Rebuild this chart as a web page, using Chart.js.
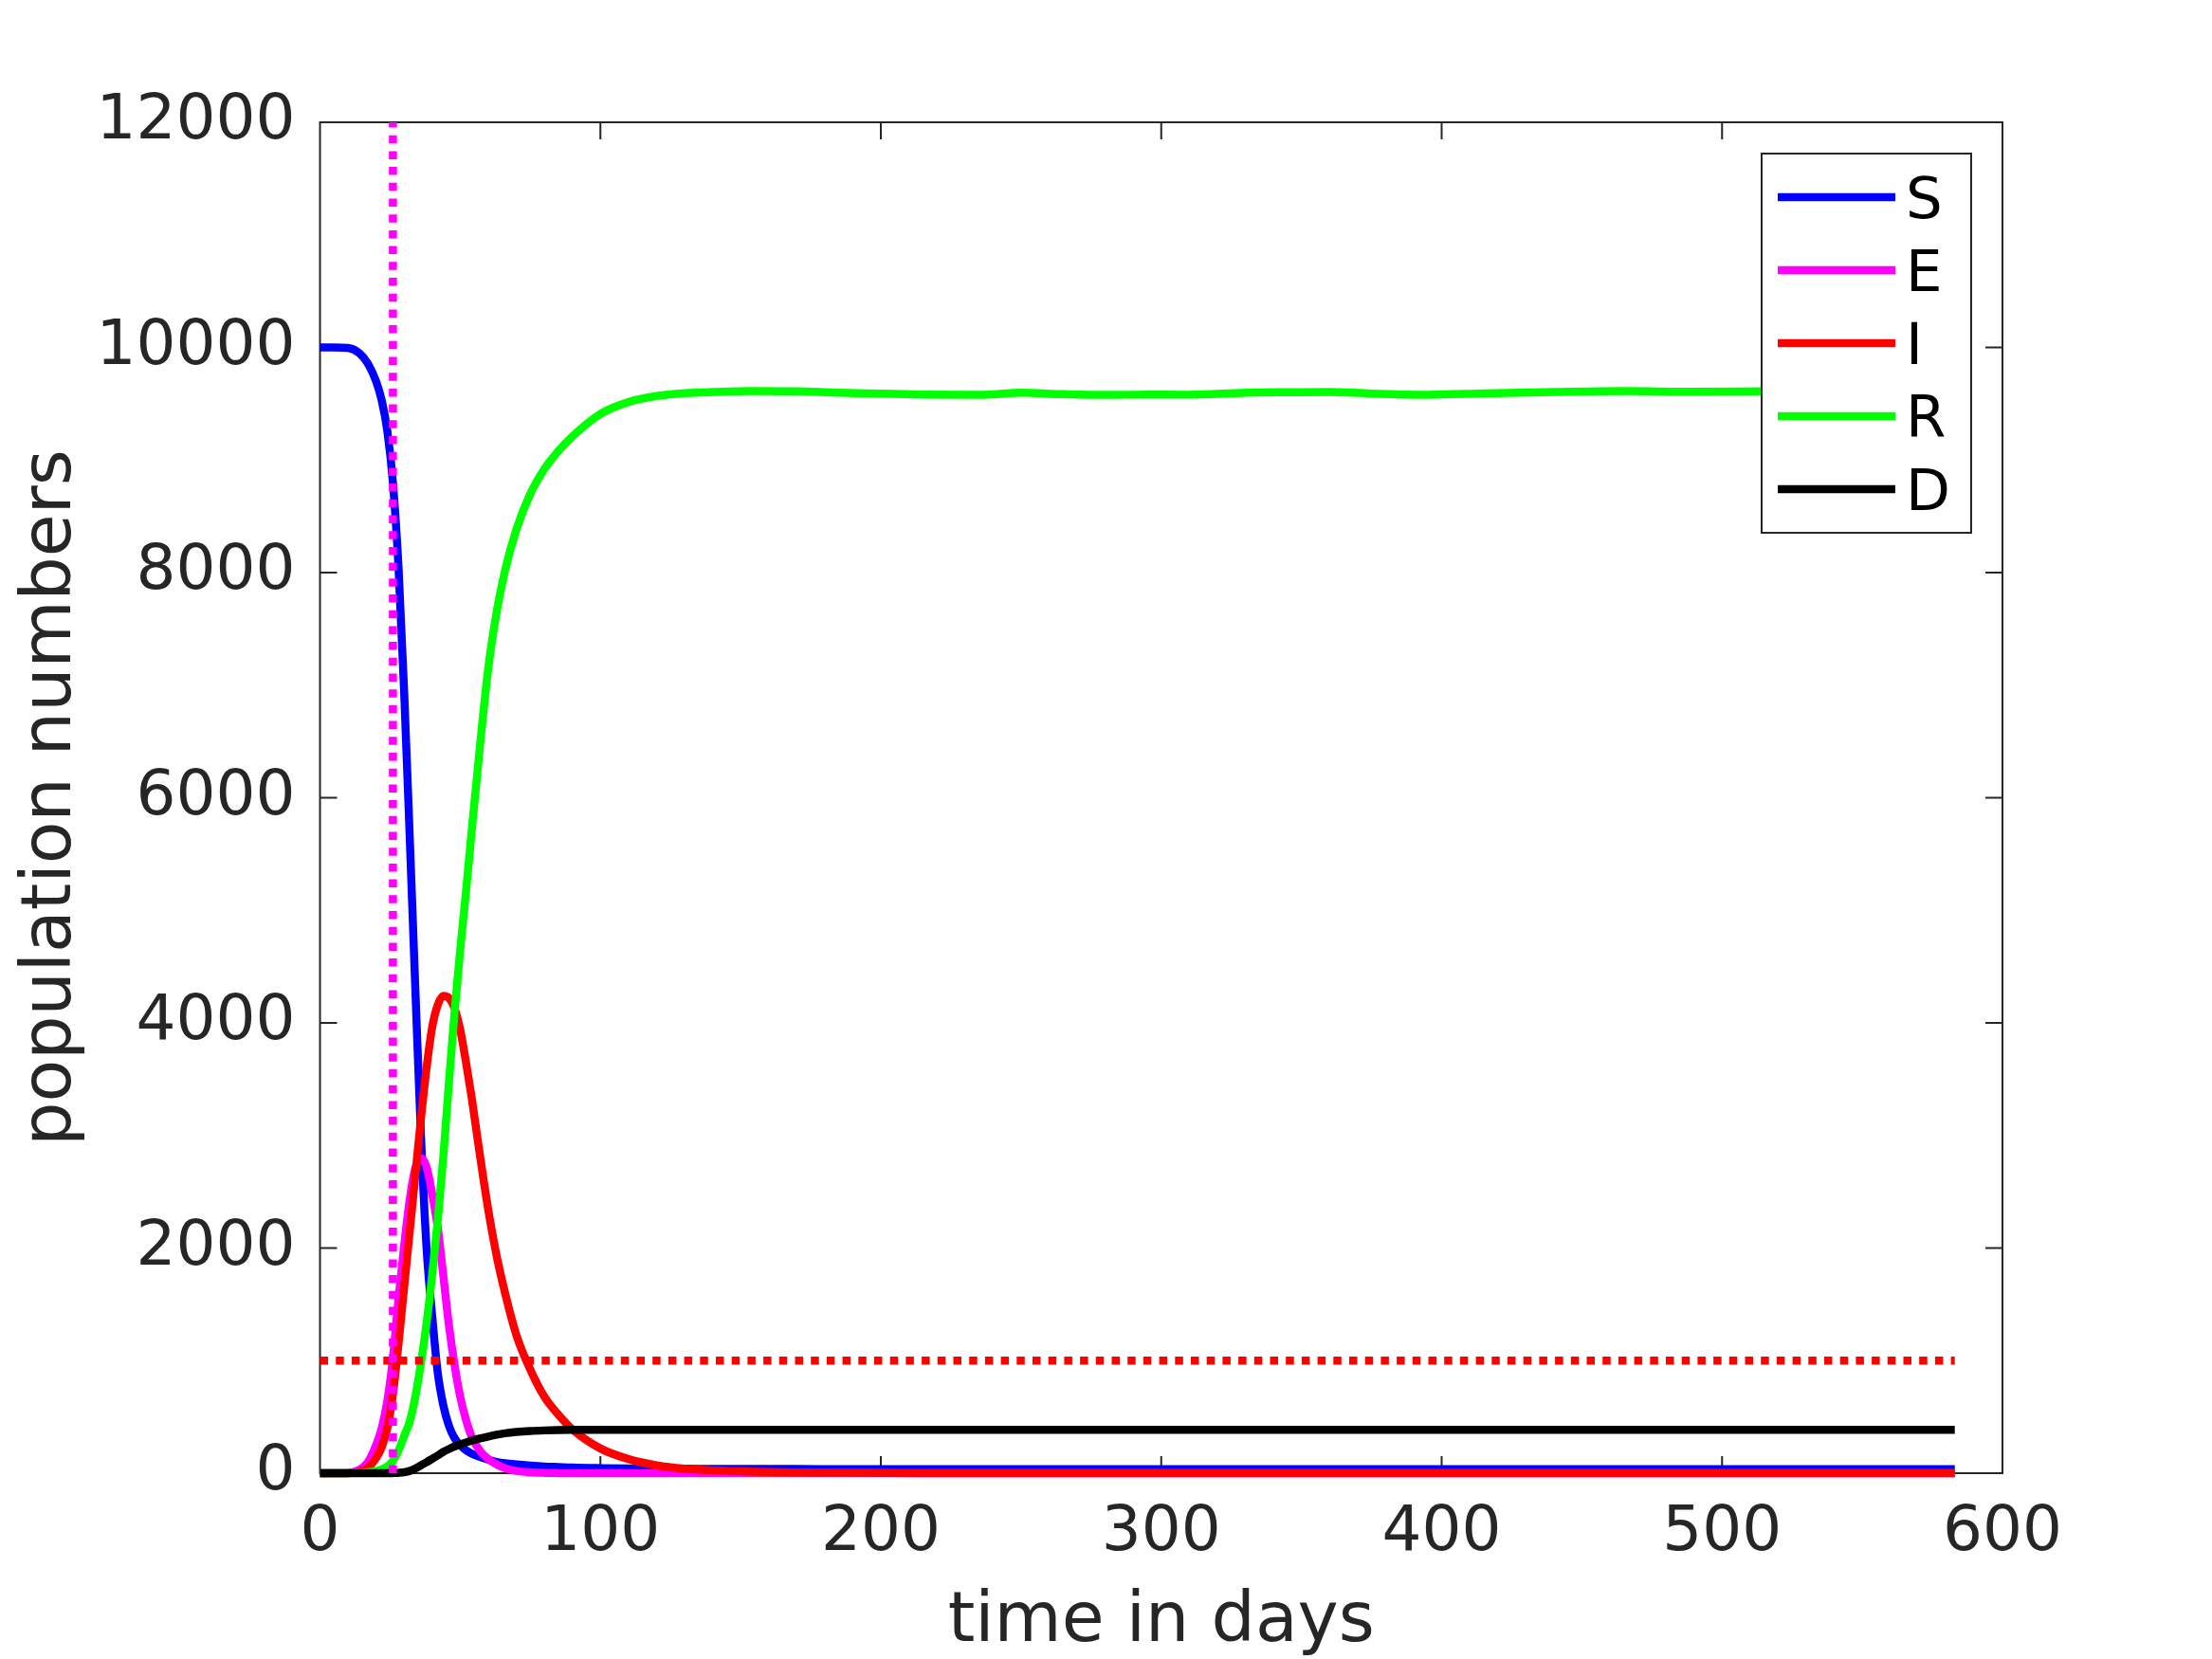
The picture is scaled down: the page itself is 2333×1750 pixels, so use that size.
<!DOCTYPE html>
<html>
<head>
<meta charset="utf-8">
<script src="https://cdn.jsdelivr.net/npm/chart.js"></script>
<style>
  html, body { margin: 0; padding: 0; background: #fff; }
  canvas { display: block; }
</style>
</head>
<body>
<canvas id="seirdChart" width="2333" height="1750"></canvas>
<script>
// time grid (days) and compartments
const days = [0, 5, 10, 14, 17, 20, 22, 24, 26, 28,
  30, 32, 34, 36, 38, 40, 42, 44, 46, 48,
  50, 52, 54, 57, 60, 63, 66, 70, 75, 80,
  85, 90, 100, 110, 120, 130, 140, 155, 170, 185,
  200, 215, 235, 250, 265, 280, 295, 310, 330, 345,
  360, 375, 395, 415, 440, 465, 490, 515, 540, 565, 583];

const susceptible = [10000, 10000, 9995, 9950, 9860, 9700, 9530, 9260, 8800, 8050,
  6950, 5650, 4300, 3000, 2000, 1400, 890, 600, 420, 310,
  250, 205, 175, 145, 120, 100, 88, 78, 68, 60,
  55, 50, 45, 42, 40, 39, 38, 37, 37, 36,
  36, 36, 36, 36, 36, 35, 35, 35, 35, 35,
  35, 35, 35, 35, 35, 35, 35, 35, 35, 35, 35];

const exposed = [0, 0, 3, 30, 95, 250, 400, 640, 1020, 1550,
  2020, 2430, 2710, 2800, 2720, 2480, 2180, 1750, 1310, 960,
  680, 480, 330, 200, 125, 78, 45, 20, 8, 3,
  1, 0, 0, 0, 0, 0, 0, 0, 0, 0,
  0, 0, 0, 0, 0, 0, 0, 0, 0, 0,
  0, 0, 0, 0, 0, 0, 0, 0, 0, 0, 0];

const infected = [0, 0, 1, 12, 45, 135, 230, 400, 700, 1150,
  1650, 2150, 2650, 3150, 3600, 3960, 4160, 4240, 4220, 4130,
  3940, 3660, 3350, 2830, 2340, 1930, 1600, 1230, 920, 680,
  520, 390, 220, 125, 70, 40, 25, 13, 7, 4,
  2, 1, 0, 0, 0, 0, 0, 0, 0, 0,
  0, 0, 0, 0, 0, 0, 0, 0, 0, 0, 0];

const recovered = [0, 0, 1, 3, 8, 20, 35, 60, 110, 200,
  330, 460, 680, 980, 1330, 1760, 2250, 2820, 3480, 4100,
  4650, 5150, 5680, 6450, 7150, 7650, 8020, 8380, 8700, 8920,
  9080, 9210, 9410, 9515, 9568, 9593, 9604, 9613, 9610, 9598,
  9590, 9582, 9578, 9597, 9585, 9578, 9582, 9580, 9598, 9602,
  9605, 9590, 9580, 9592, 9604, 9612, 9606, 9610, 9612, 9610, 9612];

const dead = [0, 0, 0, 0, 0, 0, 0, 0, 1, 3,
  8, 20, 42, 70, 98, 128, 158, 190, 215, 238,
  255, 272, 290, 308, 325, 342, 355, 366, 375, 380,
  383, 385, 386, 386, 386, 386, 386, 386, 386, 386,
  386, 386, 386, 386, 386, 386, 386, 386, 386, 386,
  386, 386, 386, 386, 386, 386, 386, 386, 386, 386, 386];

// dotted reference lines
const thresholdDays = [0, 583];
const thresholdLevel = [1000, 1000];
const interventionDay = [26, 26];
const interventionSpan = [0, 12000];

const seriesLabels = ["S", "E", "I", "R", "D"];
const xTicks = [0, 100, 200, 300, 400, 500, 600];
const yTicks = [0, 2000, 4000, 6000, 8000, 10000, 12000];

const ink = "#262626";
const FONT = "DejaVu Sans";

function pts(xs, ys) {
  return xs.map((x, i) => ({ x: x, y: ys[i] }));
}

function curve(label, values, color, order) {
  return {
    label: label,
    data: pts(days, values),
    borderColor: color,
    backgroundColor: color,
    borderWidth: 8.5,
    pointRadius: 0,
    cubicInterpolationMode: "monotone",
    clip: 10,
    order: order,
  };
}

function dotted(label, xs, ys, color, order) {
  return {
    label: label,
    data: pts(xs, ys),
    borderColor: color,
    borderWidth: 8.5,
    borderDash: [8.5, 8.2],
    pointRadius: 0,
    clip: 10,
    order: order,
  };
}

// frame with inward ticks on all four sides (matlab "box on")
const boxFrame = {
  id: "boxFrame",
  beforeDatasetsDraw(chart) {
    const { ctx, chartArea: a, scales } = chart;
    const len = 18;
    ctx.save();
    ctx.strokeStyle = ink;
    ctx.lineWidth = 2;
    ctx.beginPath();
    ctx.rect(a.left, a.top, a.right - a.left, a.bottom - a.top);
    xTicks.forEach((v) => {
      const px = scales.x.getPixelForValue(v);
      ctx.moveTo(px, a.bottom);
      ctx.lineTo(px, a.bottom - len);
      ctx.moveTo(px, a.top);
      ctx.lineTo(px, a.top + len);
    });
    yTicks.forEach((v) => {
      const py = scales.y.getPixelForValue(v);
      ctx.moveTo(a.left, py);
      ctx.lineTo(a.left + len, py);
      ctx.moveTo(a.right, py);
      ctx.lineTo(a.right - len, py);
    });
    ctx.stroke();
    ctx.restore();
  },
};

// legend box in the upper right corner of the axes
const legendBox = {
  id: "legendBox",
  afterDatasetsDraw(chart) {
    const { ctx, chartArea: a } = chart;
    const w = 221, h = 400;
    const x0 = a.right - 33 - w;
    const y0 = a.top + 33;
    ctx.save();
    ctx.fillStyle = "#fff";
    ctx.fillRect(x0, y0, w, h);
    ctx.strokeStyle = ink;
    ctx.lineWidth = 2;
    ctx.strokeRect(x0, y0, w, h);
    ctx.font = "61px '" + FONT + "'";
    ctx.textBaseline = "alphabetic";
    ctx.textAlign = "left";
    chart.data.datasets
      .filter((ds) => seriesLabels.includes(ds.label))
      .forEach((ds, i) => {
        const cy = y0 + 46 + i * 77;
        ctx.strokeStyle = ds.borderColor;
        ctx.lineWidth = 8.5;
        ctx.setLineDash([]);
        ctx.beginPath();
        ctx.moveTo(x0 + 17, cy);
        ctx.lineTo(x0 + 141, cy);
        ctx.stroke();
        ctx.fillStyle = "#000";
        ctx.fillText(ds.label, x0 + 152, cy + 22);
      });
    ctx.restore();
  },
};

Chart.defaults.font.family = FONT;

new Chart(document.getElementById("seirdChart"), {
  type: "line",
  data: {
    datasets: [
      curve(seriesLabels[0], susceptible, "#0000ff", 6),
      curve(seriesLabels[1], exposed, "#ff00ff", 5),
      curve(seriesLabels[2], infected, "#ff0000", 4),
      curve(seriesLabels[3], recovered, "#00ff00", 3),
      curve(seriesLabels[4], dead, "#000000", 2),
      dotted("threshold", thresholdDays, thresholdLevel, "#ff0000", 1),
      dotted("intervention", interventionDay, interventionSpan, "#ff00ff", 0),
    ],
  },
  options: {
    responsive: false,
    animation: false,
    devicePixelRatio: 1,
    layout: { padding: { top: 129, right: 221, bottom: 0, left: 0 } },
    plugins: {
      legend: { display: false },
      tooltip: { enabled: false },
    },
    scales: {
      x: {
        type: "linear",
        min: 0,
        max: 600,
        afterBuildTicks: (scale) => {
          scale.ticks = xTicks.map((v) => ({ value: v }));
        },
        ticks: { color: ink, font: { size: 66 }, padding: 24 },
        grid: { display: false, drawTicks: false },
        border: { display: false },
        title: {
          display: true,
          text: "time in days",
          color: ink,
          font: { size: 73, lineHeight: 1.05 },
          padding: { top: 0, bottom: 0 },
        },
        afterFit: (scale) => {
          scale.height = 196;
        },
      },
      y: {
        type: "linear",
        min: 0,
        max: 12000,
        afterBuildTicks: (scale) => {
          scale.ticks = yTicks.map((v) => ({ value: v }));
        },
        ticks: {
          color: ink,
          font: { size: 66 },
          padding: 26,
          callback: (v) => String(v),
        },
        grid: { display: false, drawTicks: false },
        border: { display: false },
        title: {
          display: true,
          text: "population numbers",
          color: ink,
          font: { size: 73 },
          padding: { top: 11, bottom: 0 },
        },
        afterFit: (scale) => {
          scale.width = 337.5;
        },
      },
    },
  },
  plugins: [boxFrame, legendBox],
});
</script>
</body>
</html>
